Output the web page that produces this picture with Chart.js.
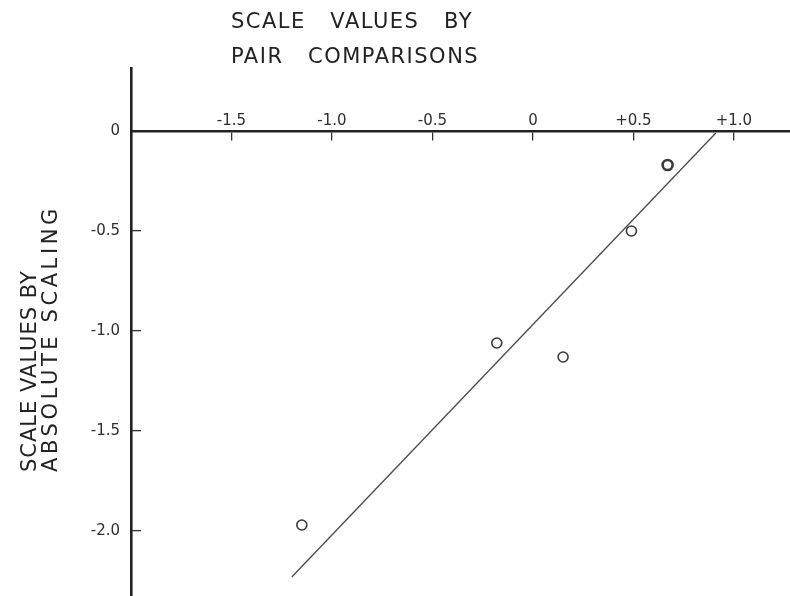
<!DOCTYPE html>
<html>
<head>
<meta charset="utf-8">
<script src="https://cdn.jsdelivr.net/npm/chart.js@4/dist/chart.umd.min.js"></script>
<style>
  html, body { margin: 0; padding: 0; background: #ffffff; }
  #wrap { width: 790px; height: 596px; }
</style>
</head>
<body>
<div id="wrap"><canvas id="c" width="790" height="596"></canvas></div>
<script>
// Scale values of each stimulus: pair comparisons (x) vs absolute scaling (y)
const pairScale     = [-1.15, -0.18, 0.15, 0.49, 0.67];
const absoluteScale = [-1.97, -1.06, -1.13, -0.50, -0.17];

// Fitted straight line, end points
const fitX = [-1.20, 0.91];
const fitY = [-2.23, -0.01];

// Axis ticks and their printed labels
const xTickValues = [-1.5, -1.0, -0.5, 0, 0.5, 1.0];
const xTickLabels = ['-1.5', '-1.0', '-0.5', '0', '+0.5', '+1.0'];
const yTickValues = [0, -0.5, -1.0, -1.5, -2.0];
const yTickLabels = ['0', '-0.5', '-1.0', '-1.5', '-2.0'];

// Axis titles
const xTitleLines = ['SCALE   VALUES   BY', 'PAIR   COMPARISONS'];
const yTitleLines = ['SCALE VALUES BY', 'ABSOLUTE SCALING'];

const INK = '#222222';
const FONT = '"DejaVu Sans", "Liberation Sans", sans-serif';

// Draws the two multi-line axis titles in lettering style
const axisTitles = {
  id: 'axisTitles',
  afterDraw(chart) {
    const ctx = chart.ctx;
    ctx.save();
    ctx.fillStyle = INK;
    ctx.font = '21px ' + FONT;
    ctx.letterSpacing = '1.5px';
    ctx.textAlign = 'left';
    ctx.textBaseline = 'alphabetic';
    ctx.fillText(xTitleLines[0], 231, 28);
    ctx.fillText(xTitleLines[1], 231, 63);

    // rotated title, lines share a common starting edge at the bottom
    ctx.font = '21px ' + FONT;
    const baselines = [36, 57];
    const spacing = ['1px', '3.6px'];
    yTitleLines.forEach((line, i) => {
      ctx.save();
      ctx.letterSpacing = spacing[i];
      ctx.translate(baselines[i], 472);
      ctx.rotate(-Math.PI / 2);
      ctx.fillText(line, 0, 0);
      ctx.restore();
    });
    ctx.restore();
  }
};

const points = pairScale.map((x, i) => ({ x, y: absoluteScale[i] }));
const fitPoints = fitX.map((x, i) => ({ x, y: fitY[i] }));

new Chart(document.getElementById('c'), {
  type: 'scatter',
  data: {
    datasets: [
      {
        type: 'line',
        data: fitPoints,
        borderColor: '#4a4a4a',
        borderWidth: 1.3,
        pointRadius: 0,
        fill: false,
        tension: 0
      },
      {
        data: points,
        pointStyle: 'circle',
        pointRadius: 5,
        pointHoverRadius: 5,
        backgroundColor: 'rgba(255,255,255,0)',
        borderColor: '#3a3a3a',
        borderWidth: ctx => (ctx.dataIndex === 4 ? 2.6 : 1.6)
      }
    ]
  },
  options: {
    responsive: false,
    animation: false,
    devicePixelRatio: 1,
    layout: { autoPadding: false, padding: { top: 68, left: 0, right: 0, bottom: 0 } },
    plugins: {
      legend: { display: false },
      tooltip: { enabled: false },
      title: { display: false }
    },
    scales: {
      x: {
        type: 'linear',
        position: { y: 0 },
        min: -2.0,
        max: 1.279,
        afterBuildTicks: s => { s.ticks = xTickValues.map(v => ({ value: v })); },
        afterFit: s => { s.paddingLeft = 0; s.paddingRight = 0; s.paddingTop = 0; s.paddingBottom = 0; },
        border: { display: true, color: INK, width: 2.6 },
        grid: { drawOnChartArea: false, drawTicks: true, tickLength: 8, color: '#333', lineWidth: 1.3 },
        ticks: {
          autoSkip: false,
          maxRotation: 0,
          minRotation: 0,
          padding: -27,
          color: '#2e2e2e',
          font: { family: FONT, size: 15 },
          callback: (v) => { const i = xTickValues.indexOf(v); return i >= 0 ? xTickLabels[i] : ''; }
        }
      },
      y: {
        type: 'linear',
        position: 'left',
        min: -2.325,
        max: 0.315,
        afterBuildTicks: s => { s.ticks = yTickValues.map(v => ({ value: v })); },
        afterFit: s => { s.width = 131; s.paddingTop = 0; s.paddingBottom = 0; },
        border: { display: true, color: INK, width: 2.6 },
        grid: { drawOnChartArea: false, drawTicks: true, tickLength: -10, color: '#333', lineWidth: 1.3 },
        ticks: {
          padding: 21,
          color: '#2e2e2e',
          font: { family: FONT, size: 15 },
          callback: (v) => { const i = yTickValues.indexOf(v); return i >= 0 ? yTickLabels[i] : ''; }
        }
      }
    }
  },
  plugins: [axisTitles]
});
</script>
</body>
</html>
